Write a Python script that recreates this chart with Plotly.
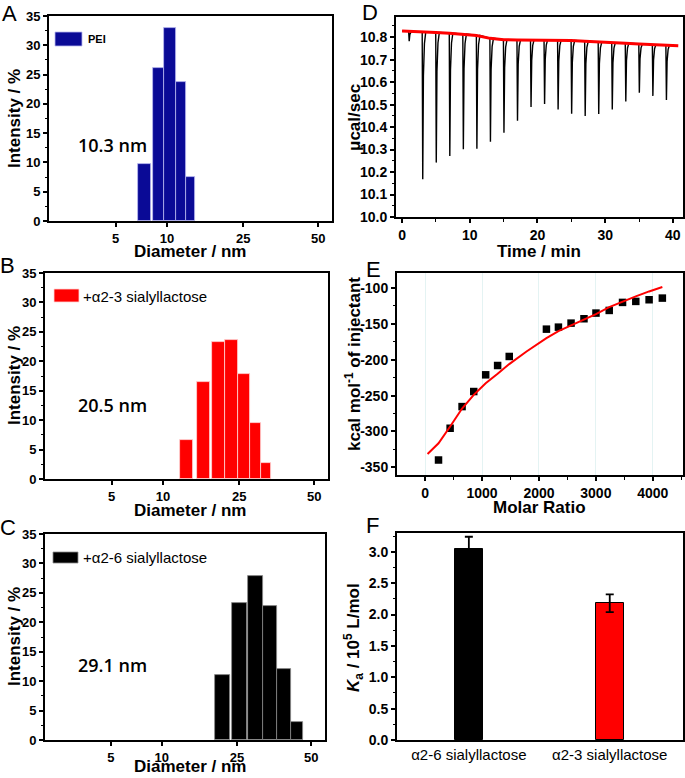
import numpy as np
import plotly.graph_objects as go

W, H = 685, 778
FONT = "Liberation Sans, Arial, sans-serif"

# ---- A-C: DLS size distributions (bin edges in nm, intensity in %) ----
tick_nm = [5, 10, 25, 50]
tick_pos = [23.5, 41.7, 68.6, 95.1]   # where those labels sit along the (0-100) axis

pei_lo = [7.2, 8.6, 9.7, 11.7, 13.7]
pei_hi = [8.4, 9.7, 11.7, 13.7, 15.6]
pei_int = [9.7, 26.1, 33.0, 23.7, 7.5]

sl23_lo = [13.3, 16.7, 19.6, 22.2, 24.8, 28.5, 32.2]
sl23_hi = [16.0, 19.3, 22.2, 24.8, 28.5, 32.2, 35.5]
sl23_int = [6.7, 16.4, 23.2, 23.6, 17.9, 9.5, 2.7]

sl26_lo = [20.6, 24.0, 28.7, 33.7, 38.4, 43.0]
sl26_hi = [23.6, 28.3, 33.7, 38.4, 43.0, 47.3]
sl26_int = [11.1, 23.2, 27.8, 22.7, 12.1, 3.1]

# ---- D: raw ITC thermogram ----
inj_time = [1, 3, 5, 7, 9, 11, 13, 15, 17, 19, 21, 23, 25, 27, 29, 31, 33, 35, 37, 39]
inj_min = [10.782, 10.168, 10.242, 10.272, 10.301, 10.304, 10.335, 10.375, 10.428, 10.489,
           10.503, 10.478, 10.459, 10.450, 10.458, 10.478, 10.514, 10.553, 10.539, 10.521]
base_time = [0, 1, 3, 5, 7, 9, 11, 13, 15, 17, 19, 21, 23, 25, 27, 29, 31, 33, 35, 37, 39, 40.8]
base_val = [10.828, 10.826, 10.824, 10.821, 10.818, 10.814, 10.808, 10.795, 10.789, 10.788, 10.788,
            10.788, 10.787, 10.785, 10.782, 10.778, 10.775, 10.773, 10.770, 10.767, 10.765, 10.762]

# ---- E: integrated heats ----
molar_ratio = [234, 438, 648, 853, 1063, 1273, 1477, 2131, 2342, 2564, 2791, 3002, 3235, 3469,
               3702, 3936, 4169]
heat = [-339.8, -295.5, -265.3, -244.3, -221.0, -208.0, -195.4, -157.3, -154.5, -148.9, -142.8,
        -134.9, -131.2, -120.0, -118.6, -116.3, -114.0]
fit_ratio = [41, 234, 438, 648, 853, 1063, 1273, 1477, 1781, 2131, 2342, 2564, 2791, 3002, 3235,
             3469, 3702, 3936, 4169]
fit_heat = [-331.4, -316.5, -293.0, -268.0, -249.0, -232.7, -219.6, -206.0, -188.5, -169.8, -160.0,
            -152.0, -142.8, -136.3, -126.5, -118.6, -111.6, -104.7, -98.6]

# ---- F: association constants ----
sugars = ["α2-6 sialyllactose", "α2-3 sialyllactose"]
ka = [3.05, 2.18]
ka_err = [0.19, 0.14]
ka_colors = ["#000000", "#ff0000"]


def dom_x(a, b):
    return [a / W, b / W]


def dom_y(top, bottom):
    return [1 - bottom / H, 1 - top / H]


def to_pos(nm):
    return np.interp(nm, tick_nm, tick_pos)


fig = go.Figure()

hist_sets = [
    (pei_lo, pei_hi, pei_int, "#0a0a96", "#b9b9f0", "x", "y"),
    (sl23_lo, sl23_hi, sl23_int, "#ff0000", "#ffd6d6", "x2", "y2"),
    (sl26_lo, sl26_hi, sl26_int, "#000000", "#8a8a8a", "x3", "y3"),
]
for lo, hi, val, col, edge, xa, ya in hist_sets:
    lo_p, hi_p = to_pos(lo), to_pos(hi)
    fig.add_trace(go.Bar(
        x=(lo_p + hi_p) / 2, y=val, width=hi_p - lo_p,
        marker=dict(color=col, line=dict(color=edge, width=0.8)),
        xaxis=xa, yaxis=ya, showlegend=False,
    ))

# thermogram: baseline with a sharp exothermic spike at each injection
spike_dt = [-0.03, 0.05, 0.15, 0.3, 0.5]
spike_frac = [0, 1, 0.3, 0.08, 0]
tx, ty = [base_time[0]], [base_val[0]]
for k, t0 in enumerate(inj_time):
    b = base_val[k + 1]
    depth = b - inj_min[k]
    for dt, fr in zip(spike_dt, spike_frac):
        tx.append(t0 + dt)
        ty.append(b - fr * depth)
tx.append(base_time[-1] - 0.6)
ty.append(base_val[-1])
fig.add_trace(go.Scatter(x=tx, y=ty, mode="lines", line=dict(color="black", width=1.4),
                         xaxis="x4", yaxis="y4", showlegend=False))
fig.add_trace(go.Scatter(x=base_time, y=base_val, mode="lines", line=dict(color="#ff0000", width=3),
                         xaxis="x4", yaxis="y4", showlegend=False))

fig.add_trace(go.Scatter(x=molar_ratio, y=heat, mode="markers",
                         marker=dict(symbol="square", size=7.5, color="black"),
                         xaxis="x5", yaxis="y5", showlegend=False))
fig.add_trace(go.Scatter(x=fit_ratio, y=fit_heat, mode="lines", line=dict(color="#ff0000", width=2),
                         xaxis="x5", yaxis="y5", showlegend=False))

fig.add_trace(go.Bar(
    x=[0, 1], y=ka, width=0.2,
    marker=dict(color=ka_colors, line=dict(color="black", width=1)),
    error_y=dict(type="data", array=ka_err, color="black", thickness=1.8, width=4),
    xaxis="x6", yaxis="y6", showlegend=False,
))

tick_font = dict(family=FONT, size=13, color="black", weight=700)
tick_font2 = dict(family=FONT, size=14, color="black", weight=700)


def ax(domain, anchor, font, **kw):
    d = dict(domain=domain, anchor=anchor, showline=True, linecolor="black", linewidth=2,
             mirror=True, ticks="outside", ticklen=4, tickwidth=1.5, tickcolor="black",
             tickfont=font, showgrid=False, zeroline=False, automargin=False)
    d.update(kw)
    return d


hist_ticktext = [str(v) for v in tick_nm]
y_minor = lambda step: dict(ticks="outside", ticklen=2.5, tickwidth=1, tickcolor="black", dtick=step)

fig.update_layout(
    width=W, height=H, margin=dict(l=0, r=0, t=0, b=0, autoexpand=False),
    paper_bgcolor="white", plot_bgcolor="white", bargap=0,
    xaxis=ax(dom_x(49, 332), "y", tick_font, range=[0, 100], tickvals=tick_pos, ticktext=hist_ticktext),
    yaxis=ax(dom_y(16, 221), "x", tick_font, range=[0, 35], dtick=5, minor=y_minor(2.5)),
    xaxis2=ax(dom_x(45, 328), "y2", tick_font, range=[0, 100], tickvals=tick_pos, ticktext=hist_ticktext),
    yaxis2=ax(dom_y(273, 479), "x2", tick_font, range=[0, 35], dtick=5, minor=y_minor(2.5)),
    xaxis3=ax(dom_x(45, 325), "y3", tick_font, range=[0, 100], tickvals=tick_pos, ticktext=hist_ticktext),
    yaxis3=ax(dom_y(534, 740), "x3", tick_font, range=[0, 35], dtick=5, minor=y_minor(2.5)),
    xaxis4=ax(dom_x(396, 683), "y4", tick_font2, range=[-0.9, 41.5], dtick=10, minor=y_minor(5)),
    yaxis4=ax(dom_y(17, 217), "x4", tick_font2, range=[10.0, 10.89], dtick=0.1, tickformat=".1f",
              minor=y_minor(0.05)),
    xaxis5=ax(dom_x(397, 683), "y5", tick_font2, range=[-496, 4532], dtick=1000, minor=y_minor(500),
              showgrid=True, gridcolor="#e4f3f3", gridwidth=1),
    yaxis5=ax(dom_y(273, 475), "x5", tick_font2, range=[-360.7, -79],
              tickvals=[-100, -150, -200, -250, -300, -350],
              ticktext=[str(v) for v in [-100, -150, -200, -250, -300, -350]], minor=y_minor(25)),
    xaxis6=ax(dom_x(397, 683), "y6", dict(family=FONT, size=15, color="black"), range=[-0.51, 1.52],
              tickvals=[0, 1], ticktext=sugars, ticks=""),
    yaxis6=ax(dom_y(533, 740), "x6", tick_font2, range=[0, 3.3], dtick=0.5, tickformat=".1f",
              minor=y_minor(0.25)),
)

ann = []


def text(px, py, s, size, bold=True, angle=0, family=FONT, anchor="center", weight=None):
    ann.append(dict(x=px / W, y=1 - py / H, xref="paper", yref="paper", text=s, showarrow=False,
                    textangle=angle, xanchor=anchor, yanchor="middle",
                    font=dict(family=family, size=size, color="black",
                              weight=weight if weight else (700 if bold else 400))))


# panel letters
for letter, px, py in [("A", 9, 14), ("B", 8, 265), ("C", 8, 527), ("D", 370, 12), ("E", 373, 269),
                       ("F", 372, 525)]:
    text(px, py, letter, 22, bold=False)

# axis titles
for py in [252, 510, 766]:
    text(190, py, "Diameter / nm", 17)
for py in [119, 376, 637]:
    text(14, py, "Intensity / %", 17, angle=-90)
text(539, 252, "Time / min", 17)
text(539, 507, "Molar Ratio", 17)
text(354, 118, "μcal/sec", 17, angle=-90)
text(353, 364, "kcal mol<sup>-1</sup> of injectant", 17, angle=-90)
text(353, 637, "<i>K</i><sub>a</sub> / 10<sup>5</sup> L/mol", 17, angle=-90)

# mean sizes
for py, s in [(145, "10.3 nm"), (405, "20.5 nm"), (665, "29.1 nm")]:
    text(113, py, s, 18, family="Open Sans, Noto Sans, sans-serif", weight=600)

# legends
text(86, 39, "PEI", 11, anchor="left")
text(81, 296, "+α2-3 sialyllactose", 15, bold=False, anchor="left")
text(81, 557, "+α2-6 sialyllactose", 15, bold=False, anchor="left")

shapes = []
for (x0, y0, x1, y1), col, edge in [((55, 32, 82, 46), "#0a0a96", "#b9b9f0"),
                                    ((54, 289, 79, 302), "#ff0000", "#ffd6d6"),
                                    ((53, 552, 78, 563), "#000000", "#8a8a8a")]:
    shapes.append(dict(type="rect", xref="paper", yref="paper", x0=x0 / W, x1=x1 / W,
                       y0=1 - y1 / H, y1=1 - y0 / H, fillcolor=col, line=dict(color=edge, width=0.8)))

fig.update_layout(annotations=ann, shapes=shapes)

# the page body has a default 8px margin; drop it so the figure fills the window
fig.write_html("out.html", config={"displayModeBar": False},
               post_script="document.body.style.margin='0';")
